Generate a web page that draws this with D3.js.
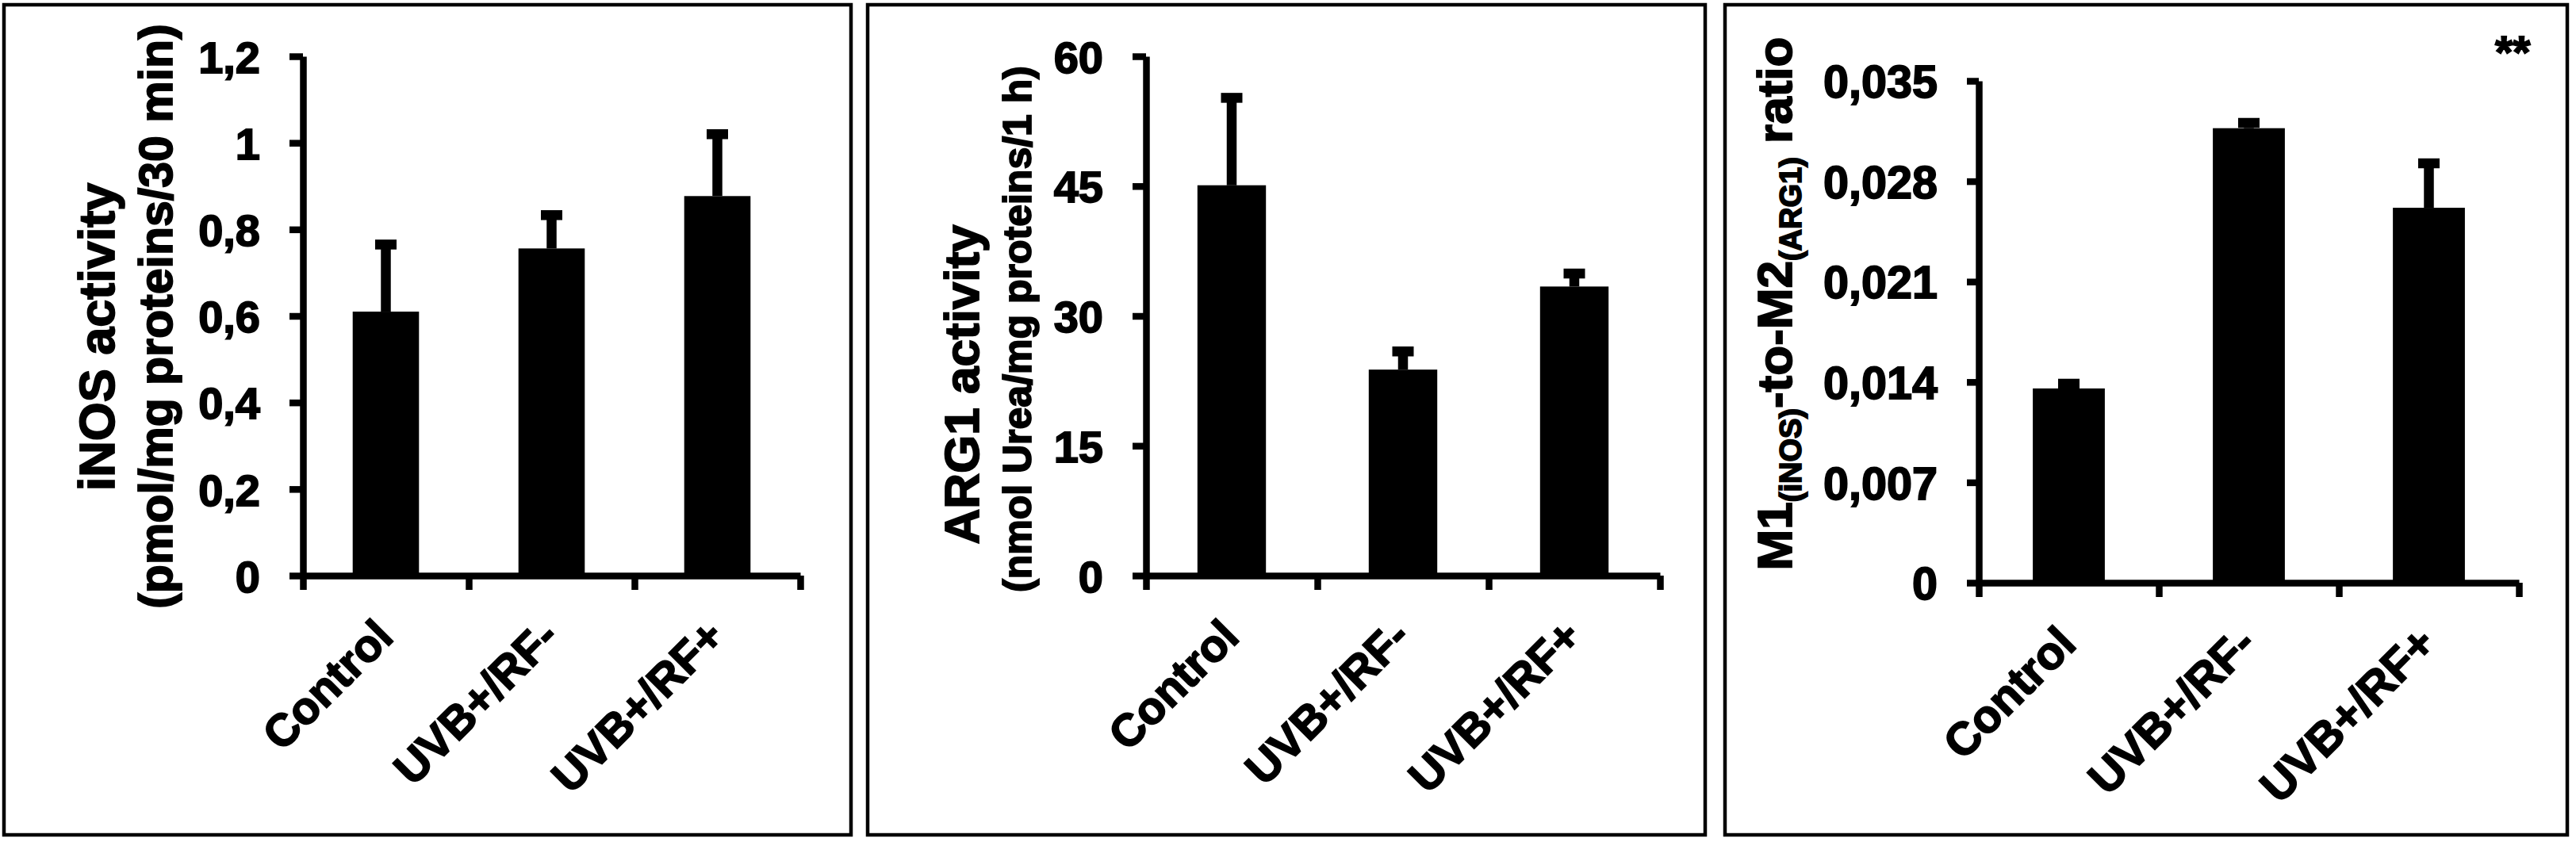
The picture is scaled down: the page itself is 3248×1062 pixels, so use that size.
<!DOCTYPE html>
<html>
<head>
<meta charset="utf-8">
<script src="https://cdn.jsdelivr.net/npm/d3@7"></script>
<style>
  body { margin: 0; background: #fff; }
  /* the scanned figure has heavier glyphs, a thin outline thickens them */
  text { font-family: "Liberation Sans", Arial, sans-serif; font-weight: bold; fill: #000; stroke: #000; stroke-width: 1.8px; white-space: pre; }
</style>
</head>
<body>
<div id="chart"></div>
<script>
// groups shared by the three panels
const categories = ["Control", "UVB+/RF-", "UVB+/RF+"];

// iNOS activity (pmol/mg proteins/30 min)
const inosMean = [0.61, 0.756, 0.877];
const inosErr = [0.155, 0.077, 0.143];
const inosTicks = [0, 0.2, 0.4, 0.6, 0.8, 1, 1.2];
const inosTickLabels = ["0", "0,2", "0,4", "0,6", "0,8", "1", "1,2"];

// ARG1 activity (nmol Urea/mg proteins/1 h)
const arg1Mean = [45.1, 23.8, 33.4];
const arg1Err = [10.1, 2.1, 1.5];
const arg1Ticks = [0, 15, 30, 45, 60];
const arg1TickLabels = ["0", "15", "30", "45", "60"];

// M1(iNOS)-to-M2(ARG1) ratio
const ratioMean = [0.01355, 0.0317, 0.02615];
const ratioErr = [0.00033, 0.00037, 0.0031];
const ratioTicks = [0, 0.007, 0.014, 0.021, 0.028, 0.035];
const ratioTickLabels = ["0", "0,007", "0,014", "0,021", "0,028", "0,035"];

const svg = d3.select("#chart")
  .append("svg")
  .attr("width", 3248)
  .attr("height", 1062);

// layout of each framed panel
const panels = [
  {
    means: inosMean, errs: inosErr, ticks: inosTicks, tickLabels: inosTickLabels,
    frame: [5, 6, 1073, 1053], axisX: 382, top: 71, zero: 726, band: 209,
    tickLen: 17, labelGap: 54, tickFont: 56, catFont: 57,
    yLines: [
      { text: "iNOS activity", x: 144, cy: 425, size: 63 },
      { text: "(pmol/mg proteins/30 min)", x: 217, cy: 399, size: 59 }
    ]
  },
  {
    means: arg1Mean, errs: arg1Err, ticks: arg1Ticks, tickLabels: arg1TickLabels,
    frame: [1094, 6, 2150, 1053], axisX: 1445, top: 71, zero: 726, band: 216,
    tickLen: 17, labelGap: 54, tickFont: 56, catFont: 57,
    yLines: [
      { text: "ARG1 activity", x: 1234, cy: 485, size: 62 },
      { text: "(nmol Urea/mg proteins/1 h)", x: 1300, cy: 415, size: 50 }
    ]
  },
  {
    means: ratioMean, errs: ratioErr, ticks: ratioTicks, tickLabels: ratioTickLabels,
    frame: [2175, 6, 3237, 1053], axisX: 2495, top: 102, zero: 735, band: 227,
    tickLen: 15, labelGap: 52, tickFont: 57.5, catFont: 58,
    yRich: {
      x: 2259, cy: 383, size: 62, subSize: 38, shift: 12,
      parts: [
        { t: "M1", sub: false },
        { t: "(iNOS)", sub: true },
        { t: "-to-M2", sub: false },
        { t: "(ARG1)", sub: true },
        { t: " ratio", sub: false }
      ]
    },
    note: { text: "**", x: 3146, y: 86, size: 57 }
  }
];

function drawPanel(p) {
  const g = svg.append("g");

  // frame around the panel
  g.append("rect")
    .attr("x", p.frame[0])
    .attr("y", p.frame[1])
    .attr("width", p.frame[2] - p.frame[0])
    .attr("height", p.frame[3] - p.frame[1])
    .attr("fill", "none")
    .attr("stroke", "#000")
    .attr("stroke-width", 4.5);

  const yScale = d3.scaleLinear()
    .domain([0, p.ticks[p.ticks.length - 1]])
    .range([p.zero, p.top]);

  const xRight = p.axisX + categories.length * p.band;
  const xBand = d3.scaleBand()
    .domain(categories)
    .range([p.axisX, xRight])
    .paddingInner(0.6)
    .paddingOuter(0.3);
  // ticks sit between the categories
  const xEdge = d3.scaleLinear()
    .domain([0, categories.length])
    .range([p.axisX, xRight]);

  const rows = categories.map((c, i) => ({ cat: c, mean: p.means[i], err: p.errs[i] }));

  // bars
  g.selectAll(".bar")
    .data(rows)
    .join("rect")
    .attr("class", "bar")
    .attr("x", d => xBand(d.cat))
    .attr("y", d => yScale(d.mean))
    .attr("width", xBand.bandwidth())
    .attr("height", d => p.zero - yScale(d.mean))
    .attr("fill", "#000");

  // upper error bars with cap
  const cx = d => xBand(d.cat) + xBand.bandwidth() / 2;
  g.selectAll(".err")
    .data(rows)
    .join("line")
    .attr("class", "err")
    .attr("x1", cx)
    .attr("x2", cx)
    .attr("y1", d => yScale(d.mean))
    .attr("y2", d => yScale(d.mean + d.err))
    .attr("stroke", "#000")
    .attr("stroke-width", 12.5);
  g.selectAll(".cap")
    .data(rows)
    .join("line")
    .attr("class", "cap")
    .attr("x1", d => cx(d) - 13.5)
    .attr("x2", d => cx(d) + 13.5)
    .attr("y1", d => yScale(d.mean + d.err))
    .attr("y2", d => yScale(d.mean + d.err))
    .attr("stroke", "#000")
    .attr("stroke-width", 12.5);

  // y axis
  const yAxis = g.append("g")
    .attr("transform", `translate(${p.axisX},0)`)
    .call(d3.axisLeft(yScale)
      .tickValues(p.ticks)
      .tickFormat((d, i) => p.tickLabels[i])
      .tickSize(p.tickLen)
      .tickSizeOuter(0)
      .tickPadding(p.labelGap - p.tickLen));
  yAxis.attr("font-family", null).attr("font-size", null);
  yAxis.select(".domain").attr("stroke-width", 8.5);
  yAxis.selectAll(".tick line").attr("stroke-width", 8.5);
  yAxis.selectAll(".tick text")
    .attr("dy", "0.36em")
    .style("font-size", p.tickFont + "px");

  // x axis
  const xAxis = g.append("g")
    .attr("transform", `translate(0,${p.zero})`)
    .call(d3.axisBottom(xEdge)
      .tickValues(d3.range(categories.length + 1))
      .tickFormat("")
      .tickSize(18)
      .tickSizeOuter(0));
  xAxis.select(".domain").attr("stroke-width", 8.5);
  xAxis.selectAll(".tick line").attr("stroke-width", 8.5);

  // slanted category labels
  g.selectAll(".cat")
    .data(categories)
    .join("text")
    .attr("class", "cat")
    .attr("text-anchor", "end")
    .attr("transform", d => `translate(${xBand(d) + xBand.bandwidth() / 2 + 12},${p.zero + 80}) rotate(-45)`)
    .style("font-size", p.catFont + "px")
    .text(d => d);

  // y title
  if (p.yLines) {
    p.yLines.forEach(l => {
      g.append("text")
        .attr("text-anchor", "middle")
        .attr("transform", `translate(${l.x},${l.cy}) rotate(-90)`)
        .style("font-size", l.size + "px")
        .text(l.text);
    });
  }
  if (p.yRich) {
    const r = p.yRich;
    const t = g.append("text")
      .attr("text-anchor", "middle")
      .attr("transform", `translate(${r.x},${r.cy}) rotate(-90)`)
      .style("font-size", r.size + "px");
    let shifted = false;
    r.parts.forEach(part => {
      let dy = 0;
      if (part.sub && !shifted) { dy = r.shift; shifted = true; }
      if (!part.sub && shifted) { dy = -r.shift; shifted = false; }
      t.append("tspan")
        .attr("dy", dy)
        .style("font-size", (part.sub ? r.subSize : r.size) + "px")
        .text(part.t);
    });
  }

  if (p.note) {
    g.append("text")
      .attr("x", p.note.x)
      .attr("y", p.note.y)
      .style("font-size", p.note.size + "px")
      .text(p.note.text);
  }
}

panels.forEach(drawPanel);
</script>
</body>
</html>
